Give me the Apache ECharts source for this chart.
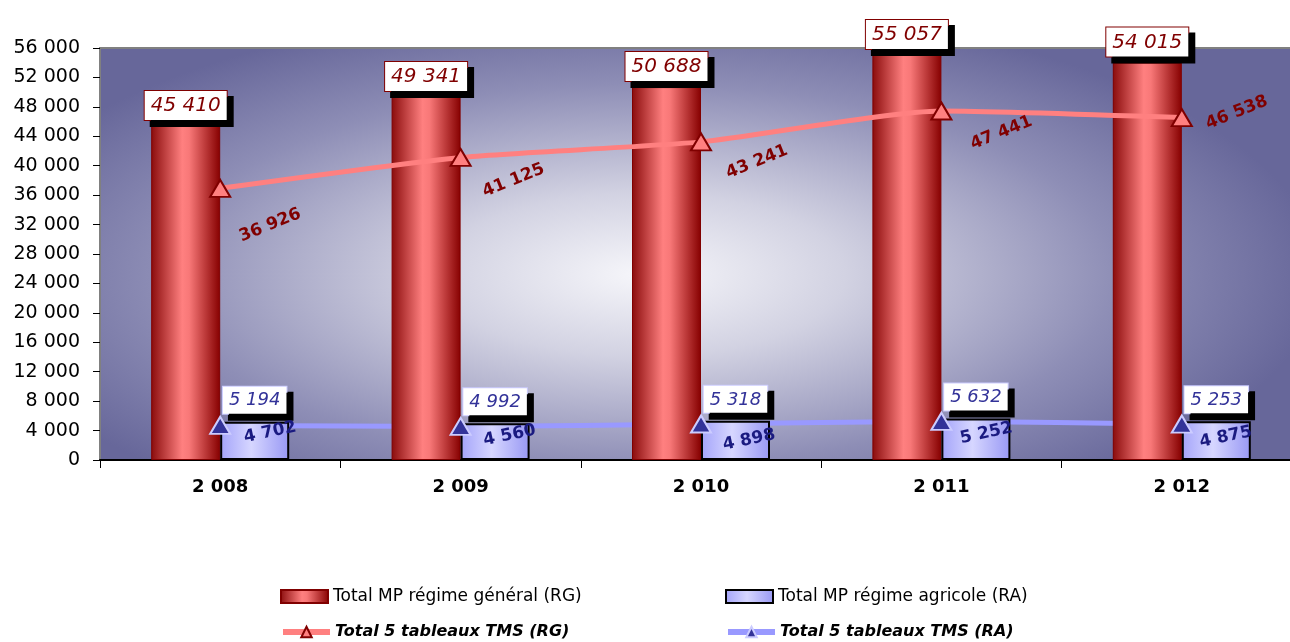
<!DOCTYPE html>
<html><head><meta charset="utf-8">
<script src="https://cdn.jsdelivr.net/npm/echarts@6/dist/echarts.min.js"></script>
<style>html,body{margin:0;padding:0;background:#fff}#c{width:1290px;height:642px}</style>
</head><body><div id="c"></div>
<script>
const categories = ['2 008','2 009','2 010','2 011','2 012'];
const rgTotal = [45410, 49341, 50688, 55057, 54015];
const raTotal = [5194, 4992, 5318, 5632, 5253];
const rgTms = [36926, 41125, 43241, 47441, 46538];
const raTms = [4702, 4560, 4898, 5252, 4875];
const seriesNames = ['Total MP régime général (RG)', 'Total MP régime agricole (RA)', 'Total 5 tableaux TMS (RG)', 'Total 5 tableaux TMS (RA)'];

// label styling (screen offsets from point, rotation)
const rgLabelShift = [[50,37],[53,23],[56,20],[60,22],[55,-5]];
const raLabelShift = [[50,7],[49,9],[48,16],[45,12],[44,13]];
const rgRot = 22, raRot = 12;

function fmt(v){ return String(v).replace(/\B(?=(\d{3})+(?!\d))/g,' '); }
function rotOff(d, deg){ const r = deg*Math.PI/180, c=Math.cos(r), s=Math.sin(r); return [c*d[0]-s*d[1], s*d[0]+c*d[1]]; }

const FONT = 'DejaVu Sans';
const chart = echarts.init(document.getElementById('c'));
const G = {left:100, top:48, width:1202, height:412};
const sx = 2.5;

const redGrad = new echarts.graphic.LinearGradient(0,0,1,0,[
  {offset:0,color:'#8a0c0c'},{offset:0.45,color:'#ff8080'},{offset:0.55,color:'#f87878'},{offset:1,color:'#860000'}]);
const blueGrad = new echarts.graphic.LinearGradient(0,0,1,0,[
  {offset:0,color:'#a4a4fa'},{offset:0.45,color:'#d6d6ff'},{offset:1,color:'#9898f4'}]);

const legendBase = {itemWidth:47, itemHeight:13, selectedMode:false, itemGap:4};
const option = {
  animation:false,
  textStyle:{fontFamily:FONT},
  graphic:[{type:'rect', x:G.left, y:G.top, scaleX:sx, z:-1, silent:true,
    shape:{x:0,y:0,width:G.width/sx,height:G.height},
    style:{fill:new echarts.graphic.RadialGradient(0.45,0.55,0.66,[
      {offset:0,color:'#f6f6fa'},{offset:0.3,color:'#d2d2e2'},{offset:0.7,color:'#8e8eb6'},{offset:1,color:'#67679a'}])}}],
  grid:{left:G.left, top:G.top, right:1290-G.left-G.width, bottom:642-G.top-G.height, outerBoundsMode:'none', containLabel:false,
    show:true, borderColor:'#808080', borderWidth:2, backgroundColor:'transparent'},
  legend:[
    Object.assign({data:[{name:seriesNames[0],icon:'rect'}], left:275, top:583, textStyle:{fontSize:17,color:'#000',fontFamily:FONT}}, legendBase),
    Object.assign({data:[{name:seriesNames[1],icon:'rect'}], left:720, top:583, textStyle:{fontSize:17,color:'#000',fontFamily:FONT}}, legendBase),
    Object.assign({data:[seriesNames[2]], left:275, top:619, lineStyle:{width:6}, textStyle:{fontSize:16,color:'#000',fontWeight:'bold',fontStyle:'italic',fontFamily:FONT}}, legendBase),
    Object.assign({data:[seriesNames[3]], left:720, top:619, lineStyle:{width:6}, textStyle:{fontSize:16,color:'#000',fontWeight:'bold',fontStyle:'italic',fontFamily:FONT}}, legendBase)
  ],
  xAxis:{type:'category', data:categories,
    axisLine:{lineStyle:{color:'#000',width:2}},
    axisTick:{show:true,length:8,lineStyle:{color:'#000'}},
    axisLabel:{fontSize:18,fontWeight:'bold',color:'#000',margin:18,fontFamily:FONT}},
  yAxis:{type:'value', min:0, max:56000, interval:4000,
    splitLine:{show:false},
    axisLine:{show:true,lineStyle:{color:'#808080',width:2}},
    axisTick:{show:true,length:7,lineStyle:{color:'#000'}},
    axisLabel:{fontSize:19,color:'#000',margin:20,fontFamily:FONT,formatter:v=>fmt(v)}},
  series:[
    {name:seriesNames[3], type:'line', data:raTms, z:1, smooth:0.2, symbol:'triangle', symbolSize:[20,17], showSymbol:false,
      lineStyle:{color:'#9999ff',width:5}, itemStyle:{color:'#333399',borderColor:'#ccccff',borderWidth:2}},
    {name:seriesNames[0], type:'bar', data:rgTotal, z:2, barWidth:69, barGap:'0%',
      itemStyle:{color:redGrad,borderColor:'#800000',borderWidth:1},
      label:{show:true,position:'top',distance:6,formatter:p=>fmt(p.value),color:'#800000',fontStyle:'italic',fontSize:20,fontFamily:FONT,
        backgroundColor:'#fff',borderColor:'#800000',borderWidth:1,padding:[5,6,4,6],shadowColor:'#000',shadowOffsetX:6,shadowOffsetY:6,shadowBlur:0}},
    {name:seriesNames[1], type:'bar', data:raTotal, z:2, barWidth:69, barGap:'0%',
      itemStyle:{color:blueGrad,borderColor:'#000',borderWidth:2},
      label:{show:true,position:'top',distance:8,formatter:p=>fmt(p.value),color:'#333399',fontStyle:'italic',fontSize:18,fontFamily:FONT,
        backgroundColor:'#fff',borderColor:'#ccccff',borderWidth:1,padding:[5,6,4,6],shadowColor:'#000',shadowOffsetX:6,shadowOffsetY:6,shadowBlur:0}},
    {name:seriesNames[2], type:'line', data:rgTms.map((v,i)=>({value:v,label:{offset:rotOff(rgLabelShift[i],rgRot)}})), z:4, smooth:0.2,
      symbol:'triangle', symbolSize:[20,17],
      lineStyle:{color:'#ff8080',width:5}, itemStyle:{color:'#ff8080',borderColor:'#800000',borderWidth:2},
      label:{show:true,position:'inside',rotate:rgRot,formatter:p=>fmt(p.value),color:'#800000',fontWeight:'bold',fontSize:17,fontFamily:FONT}},
    {name:'raTmsMarks', type:'scatter', data:raTms.map((v,i)=>({value:v,label:{offset:rotOff(raLabelShift[i],raRot)}})), z:5,
      symbol:'triangle', symbolSize:[20,17], itemStyle:{color:'#333399',borderColor:'#ccccff',borderWidth:2,opacity:1},
      label:{show:true,position:'inside',rotate:raRot,formatter:p=>fmt(p.value),color:'#1a1a80',fontWeight:'bold',fontSize:17,fontFamily:FONT}}
  ]
};
chart.setOption(option);
</script></body></html>
